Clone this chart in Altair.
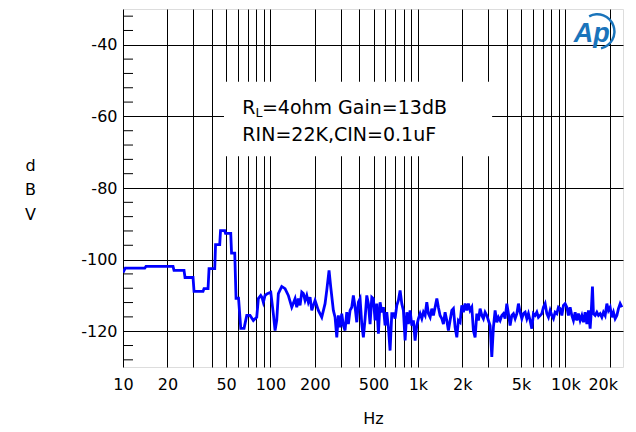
import altair as alt
import pandas as pd

# ---- data ----
freq_hz = [
    10, 10.36, 14.04, 14.32, 21.84, 22.18, 25.93, 26.34, 29.85, 30.32,
    34.89, 35.44, 37.73, 38.33, 41.90, 42.43, 45.29, 45.86, 48.97, 49.59,
    53.79, 54.47, 57.26, 58.43, 60.75, 62.89, 66.22, 69.07, 72.72, 76.56,
    78.6, 80.72, 82.77, 85.94, 87.70, 89.50, 91.91, 95.26, 100.5, 104.6,
    107.5, 110.3, 113.1, 119.3, 125.6, 132.2, 139.5, 146.9, 150.8, 154.6,
    158.8, 163.1, 167.2, 171.7, 176.3, 180.7, 185.6, 190.6, 200.7, 211.3,
    222.8, 234.6, 240.9, 249.7, 256.4, 267.1, 274.3, 281.7, 288.8, 296.6,
    304.5, 312.2, 320.6, 329.3, 337.6, 346.7, 356.0, 365.0, 374.9, 385.0,
    394.8, 405.4, 416.3, 426.8, 438.3, 450.1, 461.5, 473.9, 486.7, 498.9,
    512.4, 526.2, 539.5, 554.1, 568.9, 583.4, 599.0, 615.1, 630.7, 647.6,
    665.1, 681.9, 700.2, 719.2, 737.3, 757.3, 777.6, 797.2, 818.8, 840.8,
    862.1, 885.2, 909.0, 932.0, 957.0, 982.9, 1008, 1035, 1063, 1090,
    1119, 1149, 1178, 1210, 1242, 1274, 1308, 1344, 1377, 1414,
    1453, 1489, 1529, 1570, 1610, 1653, 1698, 1741, 1788, 1836,
    1882, 1933, 1985, 2035, 2090, 2146, 2200, 2259, 2320, 2379,
    2443, 2509, 2573, 2641, 2713, 2781, 2856, 2933, 3007, 3088,
    3171, 3252, 3339, 3429, 3516, 3610, 3707, 3801, 3904, 4009,
    4111, 4221, 4335, 4445, 4564, 4688, 4806, 4935, 5068, 5196,
    5337, 5480, 5618, 5769, 5924, 6074, 6237, 6405, 6567, 6744,
    6926, 7101, 7292, 7489, 7678, 7885, 8097, 8303, 8526, 8755,
    8978, 9218, 9467, 9705, 9966, 10234, 10493, 10777, 11066, 11344,
    11650, 11963, 12267, 12597, 12936, 13265, 13622, 13989, 14342, 14727,
    14960, 15268, 15507, 15922, 16353, 16766, 17217, 17682, 18128, 18619,
    19119, 19600, 20129, 20670, 21193, 21763, 22352, 22915, 23530, 24166,
]
level_dbv = [
    -103.6, -102.4, -102.4, -101.9, -101.9, -103.0, -103.0, -105.0, -105.0, -108.9,
    -108.9, -108.1, -108.1, -102.5, -102.5, -95.8, -95.8, -91.9, -91.9, -92.7,
    -92.7, -98.2, -98.2, -110.8, -110.8, -119.2, -119.2, -115.6, -115.6, -117.0,
    -116.5, -116.1, -110.9, -110.0, -110.6, -111.9, -110.0, -109.5, -109.1, -115.1,
    -119.8, -117.0, -109.5, -107.5, -108.1, -110.0, -113.3, -110.9, -113.3, -110.9,
    -112.8, -109.1, -109.5, -111.4, -110.0, -111.9, -110.5, -114.2, -111.4, -114.2,
    -116.1, -112.3, -108.6, -103.0, -107.7, -114.2, -116.1, -121.7, -115.6, -118.9,
    -115.1, -118.4, -119.8, -114.7, -118.0, -114.2, -113.3, -110.0, -113.3, -117.5,
    -111.9, -110.9, -118.0, -121.7, -116.5, -110.0, -112.3, -118.0, -110.5, -110.9,
    -117.0, -112.3, -120.7, -111.9, -114.7, -113.3, -118.4, -114.7, -118.9, -125.4,
    -115.1, -115.1, -116.5, -112.8, -111.4, -108.6, -112.3, -114.2, -122.6, -114.7,
    -118.0, -114.2, -118.4, -117.0, -122.6, -118.4, -116.5, -115.1, -116.5, -114.7,
    -115.6, -111.9, -115.1, -116.1, -113.7, -115.6, -113.3, -110.9, -113.3, -115.6,
    -116.5, -118.0, -114.7, -117.0, -119.8, -117.0, -114.2, -113.7, -118.9, -121.7,
    -117.0, -117.5, -112.8, -114.7, -112.3, -114.2, -112.3, -114.2, -113.3, -119.8,
    -121.7, -115.1, -117.0, -113.7, -115.6, -116.5, -114.7, -115.6, -117.0, -118.4,
    -127.2, -118.9, -114.2, -117.5, -116.1, -117.0, -115.6, -115.1, -116.5, -112.3,
    -115.1, -118.4, -115.6, -115.1, -116.5, -115.1, -112.3, -114.7, -116.5, -115.1,
    -114.7, -116.5, -115.1, -117.0, -119.3, -115.1, -115.6, -114.7, -116.1, -115.6,
    -115.1, -113.3, -112.3, -115.1, -116.1, -114.2, -115.6, -116.5, -114.7, -115.1,
    -113.3, -113.7, -115.6, -112.8, -112.3, -113.3, -115.6, -113.3, -115.6, -117.0,
    -114.7, -117.0, -115.1, -117.0, -115.6, -117.5, -114.7, -118.0, -114.2, -119.3,
    -115.1, -107.5, -115.1, -115.6, -114.7, -115.6, -115.1, -116.1, -114.7, -115.6,
    -112.3, -114.2, -113.3, -116.1, -114.7, -116.5, -115.6, -113.7, -112.3, -113.3,
]

x_grid_hz = [10, 20, 30, 40, 50, 60, 70, 80, 90,
             100, 200, 300, 400, 500, 600, 700, 800, 900,
             1000, 2000, 3000, 4000, 5000, 6000, 7000, 8000, 9000,
             10000, 20000]
x_label_hz = [10, 20, 50, 100, 200, 500, 1000, 2000, 5000, 10000, 20000]
y_major = [-120, -100, -80, -60, -40]
y_minor = [-128, -124, -116, -112, -108, -104, -96, -92, -88, -84,
           -76, -72, -68, -64, -56, -52, -48, -44, -36, -32]

# annotation box (data coordinates)
box_f = [48.4]
box_f2 = [3187]
box_v = [-50.3]
box_v2 = [-71.1]
note_text = ["R", "L", "=4ohm Gain=13dB", "RIN=22K,CIN=0.1uF"]
note_f = [64.5, 79.3, 87.5, 64.5]
note_v = [-59.3, -60.1, -59.3, -66.8]
note_size = [19, 12.5, 19, 19]

logo_text = ["Ap"]
logo_f = [15080]
logo_v = [-36.9]
logo_arc_f = [16436]
logo_arc_v = [-36.3]

FONT = "DejaVu Sans"
NOTE_FONT = "Liberation Sans"

curve = pd.DataFrame({"f": freq_hz, "v": level_dbv})

xs = alt.Scale(type="log", domain=[10, 24600], nice=False)
ys = alt.Scale(domain=[-130, -30], nice=False, zero=False)

label_list = ",".join(str(v) for v in x_label_hz)
x_axis = alt.Axis(
    values=x_grid_hz,
    grid=True, gridColor="#000000", gridWidth=1, gridOpacity=1,
    ticks=False, domain=False,
    labelExpr=f"indexof([{label_list}], datum.value) >= 0 ? (datum.value >= 1000 ? (datum.value/1000) + 'k' : '' + datum.value) : ''",
    labelFont=FONT, labelFontSize=16, labelColor="#000000",
    labelPadding=9, labelOverlap=False, labelBound=False, labelFlush=False,
    labelOffset={"condition": {"test": "datum.value == 20000", "value": -7}, "value": 0},
    title="Hz", titleFont=FONT, titleFontSize=16, titleFontWeight="normal",
    titleColor="#000000", titlePadding=18,
)
y_axis = alt.Axis(
    values=y_major,
    grid=True, gridColor="#000000", gridWidth=1, gridOpacity=1,
    ticks=False, domain=False,
    labelExpr="'' + datum.value",
    labelFont=FONT, labelFontSize=16, labelColor="#000000", labelPadding=6,
    title=["d", "B", "V"], titleFont=FONT, titleFontSize=16, titleFontWeight="normal",
    titleColor="#000000", titleAngle=0, titleAlign="center", titleBaseline="middle",
    titleLineHeight=24.5, titleX=-93, titleY=156,
)

X = alt.X("f:Q", scale=xs, axis=x_axis, title="Hz")
Y = alt.Y("v:Q", scale=ys, axis=y_axis, title=["d", "B", "V"])

line = alt.Chart(curve).mark_line(color="#0000ff", strokeWidth=2.8, clip=True).encode(x=X, y=Y)

box = alt.Chart(pd.DataFrame({"f": box_f, "f2": box_f2, "v": box_v, "v2": box_v2})).mark_rect(
    fill="#ffffff"
).encode(x=X, x2="f2:Q", y=Y, y2="v2:Q")

notes = alt.Chart(pd.DataFrame({"f": note_f, "v": note_v, "t": note_text, "s": note_size})).mark_text(
    align="left", baseline="alphabetic", font=FONT, color="#000000"
).encode(x=X, y=Y, text="t:N", size=alt.Size("s:Q", scale=None, legend=None))

minor = alt.Chart(pd.DataFrame({"v": y_minor})).mark_rule(color="#000000", strokeWidth=1).encode(
    y=Y, x=alt.value(0), x2=alt.value(10)
)

logo = alt.Chart(pd.DataFrame({"f": logo_f, "v": logo_v, "t": logo_text})).mark_text(
    font=NOTE_FONT, fontSize=27, fontStyle="italic", fontWeight="bold", color="#1a74bb",
    align="center", baseline="middle"
).encode(x=X, y=Y, text="t:N")

logo_arc = alt.Chart(pd.DataFrame({"f": logo_arc_f, "v": logo_arc_v})).mark_arc(
    theta=5.8, theta2=9.2, innerRadius=16, outerRadius=18.5, color="#1a74bb"
).encode(x=X, y=Y)

chart = alt.layer(box, minor, line, notes, logo, logo_arc).properties(
    width=500, height=358,
    autosize=alt.AutoSizeParams(type="none"),
    padding={"left": 115, "top": 1, "right": 5, "bottom": 64},
).configure_view(stroke="#000000", strokeWidth=1).configure(background="#ffffff")

chart.save("out.html", embed_options={"renderer": "svg", "actions": False})
